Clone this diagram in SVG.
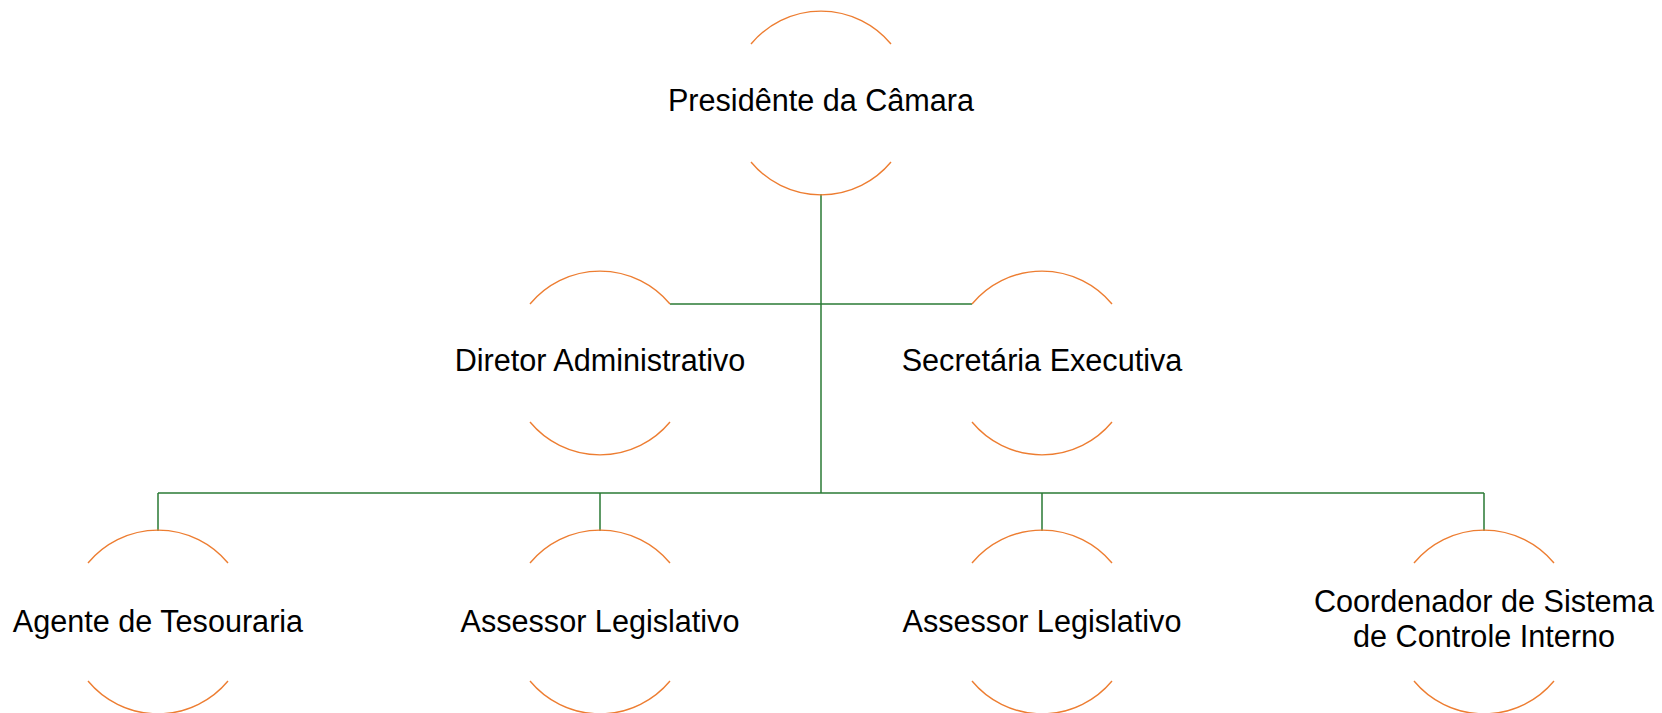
<svg xmlns="http://www.w3.org/2000/svg" width="1662" height="713" viewBox="0 0 1662 713">
<style>
.arc{fill:none;stroke:#ED7D31;stroke-width:1.4}
.con{fill:none;stroke:#2A7A35;stroke-width:1.5}
.lbl{font-family:"Liberation Sans",Arial,sans-serif;font-size:30.6px;fill:#000;text-anchor:middle}
</style>
<rect width="1662" height="713" fill="#fff"/>
<g id="connectors">
<path class="con" d="M821 194V493"/>
<path class="con" d="M670 304H972"/>
<path class="con" d="M158 493H1484"/>
<path class="con" d="M158 493V531M600 493V531M1042 493V531M1484 493V531"/>
</g>
<g id="n1">
<path class="arc" d="M751 44A91 91 0 0 1 891 44M751 162A91 91 0 0 0 891 162"/>
<text class="lbl" x="821" y="111">Presidênte da Câmara</text>
</g>
<g id="n2">
<path class="arc" d="M530 304A91 91 0 0 1 670 304M530 422A91 91 0 0 0 670 422"/>
<text class="lbl" x="600" y="371">Diretor Administrativo</text>
</g>
<g id="n3">
<path class="arc" d="M972 304A91 91 0 0 1 1112 304M972 422A91 91 0 0 0 1112 422"/>
<text class="lbl" x="1042" y="371">Secretária Executiva</text>
</g>
<g id="n4">
<path class="arc" d="M88 563A91 91 0 0 1 228 563M88 681A91 91 0 0 0 228 681"/>
<text class="lbl" x="158" y="632">Agente de Tesouraria</text>
</g>
<g id="n5">
<path class="arc" d="M530 563A91 91 0 0 1 670 563M530 681A91 91 0 0 0 670 681"/>
<text class="lbl" x="600" y="632">Assessor Legislativo</text>
</g>
<g id="n6">
<path class="arc" d="M972 563A91 91 0 0 1 1112 563M972 681A91 91 0 0 0 1112 681"/>
<text class="lbl" x="1042" y="632">Assessor Legislativo</text>
</g>
<g id="n7">
<path class="arc" d="M1414 563A91 91 0 0 1 1554 563M1414 681A91 91 0 0 0 1554 681"/>
<text class="lbl" x="1484" y="612">Coordenador de Sistema</text>
<text class="lbl" x="1484" y="647">de Controle Interno</text>
</g>
</svg>
